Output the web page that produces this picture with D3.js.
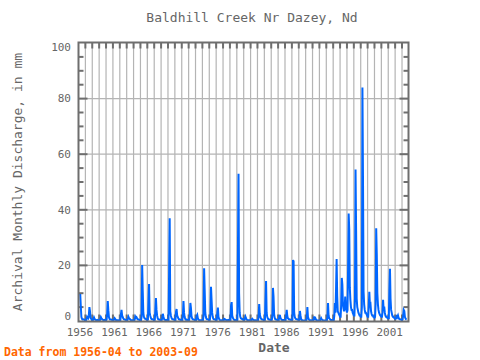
<!DOCTYPE html>
<html>
<head>
<meta charset="utf-8">
<script src="https://cdn.jsdelivr.net/npm/d3@7"></script>
<style>
  html, body { margin: 0; padding: 0; background: #ffffff; }
  svg { display: block; }
  text { font-family: "DejaVu Sans Mono", "Liberation Mono", monospace; }
</style>
</head>
<body>
<svg id="chart" width="480" height="360"></svg>
<script>
// ---- Data ----
const chartTitle = "Baldhill Creek Nr Dazey, Nd";
const yAxisTitle = "Archival Monthly Discharge, in mm";
const xAxisTitle = "Date";
const footerText = "Data from 1956-04 to 2003-09";
const startYear = 1956;
const startMonth = 4; // April
const yTicks = [0, 20, 40, 60, 80, 100];
const xTickYears = [1956, 1961, 1966, 1971, 1976, 1981, 1986, 1991, 1996, 2001];

// Monthly discharge (mm), from 1956-04 through 2003-09
const discharge = [
  /*1956*/ 9.7, 5.4, 1.5, 0.8, 0.5, 0.5, 0.6, 0.5, 0.3,
  /*1957*/ 0.3, 0.3, 0.6, 1.5, 1.2, 1.0, 2.0, 5.0, 3.6, 1.2, 0.8, 0.5,
  /*1958*/ 0.3, 0.3, 0.8, 1.3, 0.8, 0.5, 0.4, 0.3, 0.3, 0.4, 0.3, 0.2,
  /*1959*/ 0.2, 0.2, 0.7, 1.4, 1.0, 0.7, 0.5, 0.4, 0.3, 0.4, 0.3, 0.3,
  /*1960*/ 0.3, 0.5, 2.6, 7.2, 3.9, 1.5, 0.8, 0.5, 0.5, 0.5, 0.4, 0.3,
  /*1961*/ 0.2, 0.2, 0.6, 1.0, 0.7, 0.4, 0.3, 0.2, 0.3, 0.3, 0.2, 0.2,
  /*1962*/ 0.2, 0.3, 2.5, 4.0, 2.0, 1.5, 1.0, 0.6, 0.5, 0.5, 0.4, 0.3,
  /*1963*/ 0.2, 0.2, 0.8, 1.5, 1.0, 0.8, 0.6, 0.4, 0.3, 0.3, 0.3, 0.2,
  /*1964*/ 0.2, 0.2, 0.5, 1.6, 1.2, 1.4, 1.0, 0.6, 0.5, 0.5, 0.4, 0.3,
  /*1965*/ 0.3, 0.3, 1.5, 20.1, 10.8, 3.0, 1.5, 1.0, 0.8, 0.8, 0.6, 0.5,
  /*1966*/ 0.4, 0.5, 7.0, 13.3, 3.0, 2.0, 1.2, 0.8, 0.6, 0.6, 0.5, 0.4,
  /*1967*/ 0.3, 0.4, 4.0, 8.3, 4.0, 2.0, 1.0, 0.6, 0.5, 0.5, 0.4, 0.3,
  /*1968*/ 0.2, 0.3, 1.0, 2.6, 1.6, 0.8, 0.5, 0.4, 0.3, 0.4, 0.3, 0.2,
  /*1969*/ 0.2, 0.3, 18.7, 37.0, 3.5, 2.0, 1.2, 0.8, 0.6, 0.6, 0.5, 0.4,
  /*1970*/ 0.3, 0.3, 3.4, 4.3, 2.0, 1.5, 1.0, 0.6, 0.5, 0.5, 0.4, 0.3,
  /*1971*/ 0.3, 0.3, 2.0, 7.2, 3.0, 1.5, 0.8, 0.5, 0.4, 0.5, 0.4, 0.3,
  /*1972*/ 0.3, 0.4, 2.0, 6.5, 4.7, 1.8, 1.0, 0.6, 0.5, 0.5, 0.4, 0.3,
  /*1973*/ 0.2, 0.3, 1.8, 2.2, 1.0, 0.6, 0.4, 0.3, 0.3, 0.3, 0.3, 0.2,
  /*1974*/ 0.2, 0.3, 2.0, 19.0, 11.1, 3.0, 1.5, 0.8, 0.6, 0.6, 0.5, 0.4,
  /*1975*/ 0.3, 0.4, 2.5, 12.3, 7.6, 3.0, 1.5, 0.8, 0.6, 0.6, 0.5, 0.4,
  /*1976*/ 0.3, 0.4, 3.0, 4.8, 1.5, 0.8, 0.5, 0.3, 0.3, 0.3, 0.2, 0.2,
  /*1977*/ 0.1, 0.2, 0.8, 0.7, 0.5, 0.4, 0.3, 0.3, 0.3, 0.4, 0.3, 0.2,
  /*1978*/ 0.2, 0.3, 5.7, 6.8, 2.0, 1.2, 0.8, 0.5, 0.4, 0.4, 0.3, 0.3,
  /*1979*/ 0.2, 0.3, 26.7, 53.0, 10.0, 3.0, 1.5, 1.0, 0.8, 0.8, 0.6, 0.5,
  /*1980*/ 0.4, 0.4, 1.0, 1.6, 1.0, 0.6, 0.4, 0.3, 0.3, 0.3, 0.3, 0.2,
  /*1981*/ 0.2, 0.2, 0.6, 0.8, 0.5, 0.4, 0.3, 0.3, 0.3, 0.3, 0.2, 0.2,
  /*1982*/ 0.2, 0.2, 1.5, 6.1, 2.5, 1.5, 1.0, 0.6, 0.5, 0.5, 0.4, 0.3,
  /*1983*/ 0.3, 0.4, 7.6, 14.4, 3.0, 1.5, 1.0, 0.6, 0.5, 0.5, 0.4, 0.3,
  /*1984*/ 0.3, 0.4, 2.0, 11.9, 8.8, 2.5, 1.2, 0.7, 0.5, 0.5, 0.4, 0.3,
  /*1985*/ 0.3, 0.3, 1.5, 2.2, 1.2, 0.8, 0.5, 0.4, 0.4, 0.4, 0.3, 0.3,
  /*1986*/ 0.3, 0.3, 2.0, 4.0, 1.8, 1.0, 0.8, 0.6, 0.5, 0.5, 0.4, 0.3,
  /*1987*/ 0.3, 0.5, 21.9, 21.5, 3.0, 1.5, 1.0, 0.7, 0.6, 0.6, 0.5, 0.4,
  /*1988*/ 0.3, 0.4, 3.6, 2.0, 0.8, 0.4, 0.3, 0.2, 0.2, 0.2, 0.2, 0.1,
  /*1989*/ 0.1, 0.2, 1.0, 5.0, 1.5, 0.8, 0.5, 0.3, 0.3, 0.3, 0.2, 0.2,
  /*1990*/ 0.1, 0.2, 0.8, 1.6, 0.8, 1.0, 0.5, 0.3, 0.2, 0.2, 0.2, 0.1,
  /*1991*/ 0.1, 0.1, 0.5, 1.0, 0.6, 0.4, 0.3, 0.2, 0.2, 0.2, 0.2, 0.1,
  /*1992*/ 0.1, 0.2, 1.5, 6.5, 2.0, 1.0, 0.8, 0.5, 0.4, 0.4, 0.3, 0.3,
  /*1993*/ 0.3, 0.3, 2.0, 6.5, 3.0, 11.6, 22.3, 9.0, 3.4, 3.0, 2.5, 2.0,
  /*1994*/ 1.5, 1.5, 6.0, 15.5, 13.1, 6.0, 4.5, 3.5, 5.0, 8.8, 6.0, 4.0,
  /*1995*/ 3.0, 4.0, 19.4, 38.7, 33.0, 12.0, 7.6, 5.0, 4.0, 4.0, 3.0, 2.5,
  /*1996*/ 2.0, 2.0, 8.0, 54.5, 32.5, 8.0, 5.0, 4.0, 3.0, 2.5, 2.0, 2.0,
  /*1997*/ 1.5, 1.5, 5.0, 84.0, 51.0, 10.5, 6.0, 4.0, 3.0, 3.0, 2.5, 2.0,
  /*1998*/ 1.5, 1.5, 5.0, 10.5, 6.0, 6.2, 3.5, 2.5, 2.0, 2.0, 1.5, 1.5,
  /*1999*/ 1.2, 1.5, 6.0, 33.4, 24.2, 10.0, 6.0, 4.0, 3.0, 2.5, 2.0, 1.8,
  /*2000*/ 1.5, 1.5, 3.0, 7.6, 4.0, 5.2, 3.0, 2.0, 1.5, 1.5, 1.2, 1.0,
  /*2001*/ 1.0, 1.0, 11.4, 18.8, 8.0, 4.0, 3.0, 2.0, 1.5, 1.5, 1.2, 1.0,
  /*2002*/ 0.8, 0.8, 1.0, 2.2, 1.5, 2.0, 1.2, 0.8, 0.6, 0.6, 0.5, 0.4,
  /*2003*/ 0.4, 0.5, 2.0, 4.0, 3.6, 1.5, 1.0, 0.6, 0.5
];

// ---- Build records ----
const records = discharge.map((v, i) => {
  const m = startMonth - 1 + i;
  return { t: startYear + m / 12, v: v };
});

// ---- Layout ----
const svg = d3.select("#chart");
const L = 78.5, R = 408.5, T = 42.5, B = 321.5;

const x = d3.scaleLinear().domain([1956, 2003.87]).range([78.5, 408]);
const y = d3.scaleLinear().domain([0, 100]).range([321, 43]);

const frameColor = "#6e6e6e";
const gridColor = "#b4b4b4";
const textColor = "#666666";

// vertical gridlines every year
const years = d3.range(1957, 2004);
svg.append("g").selectAll("line").data(years).join("line")
  .attr("x1", d => x(d)).attr("x2", d => x(d))
  .attr("y1", T).attr("y2", B)
  .attr("stroke", gridColor).attr("stroke-width", 1.2);

// horizontal gridlines at major ticks
svg.append("g").selectAll("line").data(yTicks.filter(d => d > 0 && d < 100)).join("line")
  .attr("x1", L).attr("x2", R)
  .attr("y1", d => y(d)).attr("y2", d => y(d))
  .attr("stroke", gridColor).attr("stroke-width", 1.2);

// year ticks top and bottom (inside)
const tickG = svg.append("g").attr("stroke", frameColor).attr("stroke-width", 2);
tickG.selectAll("line.top").data(years).join("line").attr("class", "top")
  .attr("x1", d => x(d)).attr("x2", d => x(d))
  .attr("y1", T).attr("y2", T + 6);
tickG.selectAll("line.bot").data(years).join("line").attr("class", "bot")
  .attr("x1", d => x(d)).attr("x2", d => x(d))
  .attr("y1", B - 7).attr("y2", B);

// minor y ticks every 5 on left and right
const minorY = d3.range(5, 100, 5);
tickG.selectAll("line.ml").data(minorY).join("line").attr("class", "ml")
  .attr("x1", L).attr("x2", d => L + (d % 20 === 0 ? 9 : 5))
  .attr("y1", d => y(d)).attr("y2", d => y(d));
tickG.selectAll("line.mr").data(minorY).join("line").attr("class", "mr")
  .attr("x1", R).attr("x2", d => R - (d % 20 === 0 ? 9 : 5))
  .attr("y1", d => y(d)).attr("y2", d => y(d));

// data line
svg.append("defs").append("clipPath").attr("id", "clip")
  .append("rect").attr("x", L).attr("y", T).attr("width", R - L).attr("height", B - T);

const line = d3.line().x(d => x(d.t)).y(d => y(d.v));
svg.append("path").datum(records)
  .attr("clip-path", "url(#clip)")
  .attr("d", line)
  .attr("fill", "none")
  .attr("stroke", "#0066ff")
  .attr("stroke-width", 2)
  .attr("stroke-linejoin", "miter");

// frame
svg.append("rect").attr("x", L).attr("y", T).attr("width", R - L).attr("height", B - T)
  .attr("fill", "none").attr("stroke", frameColor).attr("stroke-width", 2);

// y tick labels (end labels kept inside the frame's span)
svg.append("g").selectAll("text").data(yTicks).join("text")
  .attr("x", 71).attr("y", d => Math.max(47, Math.min(316, y(d))))
  .attr("dy", "0.35em")
  .attr("text-anchor", "end")
  .attr("font-size", 11)
  .attr("fill", textColor)
  .text(d => d);

// x tick labels
svg.append("g").selectAll("text").data(xTickYears).join("text")
  .attr("x", d => x(d) + 1.5).attr("y", 336)
  .attr("text-anchor", "middle")
  .attr("font-size", 11)
  .attr("fill", textColor)
  .text(d => d);

// title
svg.append("text").attr("x", 252).attr("y", 22)
  .attr("text-anchor", "middle").attr("font-size", 13)
  .attr("fill", textColor).text(chartTitle);

// x axis title
svg.append("text").attr("x", 274).attr("y", 352)
  .attr("text-anchor", "middle").attr("font-size", 13).attr("font-weight", "bold")
  .attr("fill", textColor).text(xAxisTitle);

// y axis title
svg.append("text")
  .attr("transform", "translate(22,182) rotate(-90)")
  .attr("text-anchor", "middle").attr("font-size", 13)
  .attr("fill", textColor).text(yAxisTitle);

// footer
svg.append("text").attr("x", 4).attr("y", 356)
  .attr("font-size", 11.5).attr("font-weight", "bold")
  .attr("fill", "#ff6600").text(footerText);
</script>
</body>
</html>
